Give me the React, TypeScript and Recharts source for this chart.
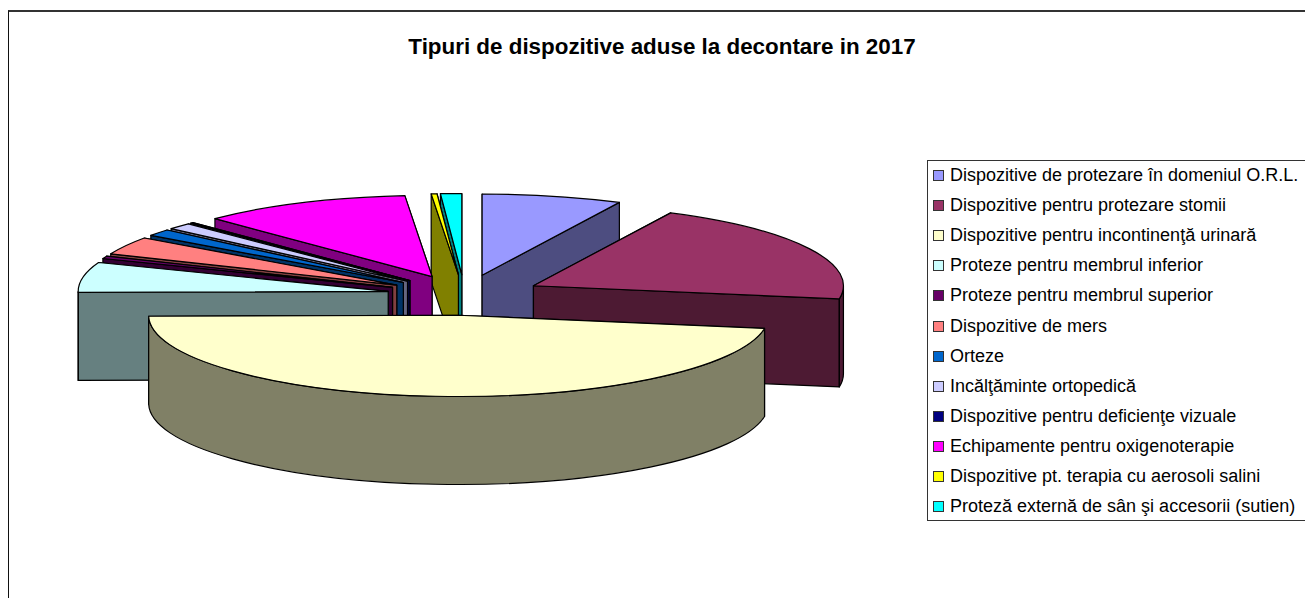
import { PieChart, Pie, Legend } from 'recharts';

const names = [
  'Dispozitive de protezare în domeniul O.R.L.',
  'Dispozitive pentru protezare stomii',
  'Dispozitive pentru incontinenţă urinară',
  'Proteze pentru membrul inferior',
  'Proteze pentru membrul superior',
  'Dispozitive de mers',
  'Orteze',
  'Incălţăminte ortopedică',
  'Dispozitive pentru deficienţe vizuale',
  'Echipamente pentru oxigenoterapie',
  'Dispozitive pt. terapia cu aerosoli salini',
  'Proteză externă de sân şi accesorii (sutien)',
];
const values = [7.3, 20.3, 47.2, 6.0, 0.5, 3.55, 1.35, 1.3, 0.15, 10.95, 0.3, 1.1];
const topColors = ['#9999FF', '#993366', '#FFFFCC', '#CCFFFF', '#660066', '#FF8080', '#0066CC', '#CCCCFF', '#000080', '#FF00FF', '#FFFF00', '#00FFFF'];
const wallColors = ['#4D4D80', '#4D1A33', '#808066', '#668080', '#330033', '#804040', '#003366', '#666680', '#000040', '#800080', '#808000', '#008080'];
// back to front, so the big front slice ends up on top
const drawOrder = [11, 10, 9, 8, 7, 6, 5, 4, 3, 0, 1, 2];

const data = names.map((name, i) => ({ name, value: values[i], wall: wallColors[i] }));

const TILT = 0.262;
const EXPLODE = 0.25;
const DEPTH = 88;
const EDGE = { stroke: '#000', strokeWidth: 1.2, strokeLinejoin: 'round' as const };

const rad = (deg: number) => (deg * Math.PI) / 180;

const Slice3D = ({ cx, cy, outerRadius: rx, startAngle, endAngle, fill, wall }: any) => {
  const ry = rx * TILT;
  const mid = rad((startAngle + endAngle) / 2);
  const ox = cx + rx * EXPLODE * Math.cos(mid);
  const oy = cy - ry * EXPLODE * Math.sin(mid);
  const pt = (deg: number, dy = 0) => `${ox + rx * Math.cos(rad(deg))} ${oy - ry * Math.sin(rad(deg)) + dy}`;
  const yAt = (deg: number) => oy - ry * Math.sin(rad(deg));
  const large = Math.abs(startAngle - endAngle) > 180 ? 1 : 0;

  const face = (deg: number) =>
    `M${ox} ${oy}L${pt(deg)}L${pt(deg, DEPTH)}L${ox} ${oy + DEPTH}Z`;
  const faces = [startAngle, endAngle].sort((a, b) => yAt(a) - yAt(b));

  const a0 = Math.min(startAngle, 0);
  const a1 = Math.max(endAngle, -180);
  const outer =
    a0 > a1
      ? `M${pt(a0)}A${rx} ${ry} 0 0 1 ${pt(a1)}L${pt(a1, DEPTH)}A${rx} ${ry} 0 0 0 ${pt(a0, DEPTH)}Z`
      : null;

  return (
    <g>
      {faces.map((deg) => (
        <path key={deg} d={face(deg)} fill={wall} {...EDGE} />
      ))}
      {outer && <path d={outer} fill={wall} {...EDGE} />}
      <path
        d={`M${ox} ${oy}L${pt(startAngle)}A${rx} ${ry} 0 ${large} 1 ${pt(endAngle)}Z`}
        fill={fill}
        {...EDGE}
      />
    </g>
  );
};

const LegendBox = () => (
  <div
    style={{
      width: 400,
      height: 361,
      boxSizing: 'border-box',
      border: '1px solid #333',
      background: '#fff',
      fontFamily: '"Liberation Sans", Arial, sans-serif',
      fontSize: 18,
      color: '#000',
    }}
  >
    {names.map((name, i) => (
      <div key={name} style={{ position: 'absolute', left: 6, top: 8 + i * 30.1, height: 14, lineHeight: '14px', whiteSpace: 'nowrap' }}>
        <span
          style={{
            position: 'absolute',
            left: 0,
            top: 2,
            width: 9,
            height: 9,
            background: topColors[i],
            border: '1px solid #333',
          }}
        />
        <span style={{ position: 'absolute', left: 17, top: 0 }}>{name}</span>
      </div>
    ))}
  </div>
);

export default function App() {
  return (
    <div style={{ position: 'absolute', left: 0, top: 0, width: 1305, height: 598, overflow: 'hidden', background: '#fff' }}>
      <div style={{ position: 'absolute', left: 8, top: 10, width: 1400, height: 700, borderLeft: '1px solid #111', borderTop: '2px solid #333' }} />
      <div style={{ position: 'absolute', left: 0, top: 0 }}>
        <PieChart width={1305} height={598} margin={{ top: 0, right: 0, bottom: 0, left: 0 }}>
          <text x={662} y={54} textAnchor="middle" fontFamily='"Liberation Sans", Arial, sans-serif' fontWeight="bold" fontSize={22.4} fill="#000">
            Tipuri de dispozitive aduse la decontare in 2017
          </text>
          {drawOrder.map((idx) => (
            <Pie
              key={idx}
              data={data}
              dataKey="value"
              nameKey="name"
              cx={464.5}
              cy={295}
              innerRadius={0}
              outerRadius={310}
              startAngle={90}
              endAngle={-270}
              paddingAngle={0}
              isAnimationActive={false}
              legendType="none"
              shape={(props: any) =>
                props.name === names[idx] ? <Slice3D {...props} fill={topColors[idx]} wall={wallColors[idx]} /> : <g />
              }
            />
          ))}
          <Legend
            layout="vertical"
            align="right"
            verticalAlign="top"
            content={<LegendBox />}
            wrapperStyle={{ position: 'absolute', left: 927, top: 160, width: 400, height: 361 }}
          />
        </PieChart>
      </div>
    </div>
  );
}
